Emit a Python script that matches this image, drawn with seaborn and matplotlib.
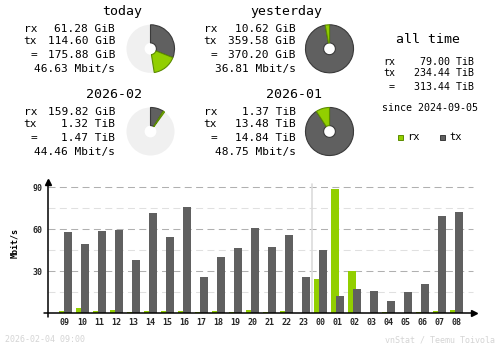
import numpy as np
import pandas as pd
import matplotlib
matplotlib.use("Agg")
import matplotlib.pyplot as plt
from matplotlib.patches import Rectangle
import seaborn as sns

# ---------------- data ----------------
hours = ["09", "10", "11", "12", "13", "14", "15", "16", "17", "18", "19", "20",
         "21", "22", "23", "00", "01", "02", "03", "04", "05", "06", "07", "08"]
rx_rate = [1.5, 3.5, 1.5, 2.5, 1.0, 1.5, 1.5, 1.5, 1.0, 1.5, 1.0, 2.5,
           1.0, 1.5, 0.2, 24.5, 88.8, 30.2, 0.2, 1.0, 0.2, 1.0, 1.5, 2.5]
tx_rate = [58.1, 49.5, 58.8, 59.5, 38.0, 71.6, 54.5, 75.9, 25.9, 40.2, 46.6, 61.0,
           47.4, 55.9, 25.9, 45.2, 12.4, 17.4, 15.9, 8.8, 15.2, 20.9, 69.5, 72.4]
y_ticks = [30, 60, 90]

day_titles = ["today", "yesterday"]
day_rx = [61.28, 10.62]          # GiB
day_tx = [114.60, 359.58]        # GiB
day_rx_txt = ["61.28 GiB", "10.62 GiB"]
day_tx_txt = ["114.60 GiB", "359.58 GiB"]
day_tot_txt = ["175.88 GiB", "370.20 GiB"]
day_rate_txt = ["46.63 Mbit/s", "36.81 Mbit/s"]

month_titles = ["2026-02", "2026-01"]
month_rx = [159.82 / 1024, 1.37]  # TiB
month_tx = [1.32, 13.48]          # TiB
month_rx_txt = ["159.82 GiB", "1.37 TiB"]
month_tx_txt = ["1.32 TiB", "13.48 TiB"]
month_tot_txt = ["1.47 TiB", "14.84 TiB"]
month_rate_txt = ["44.46 Mbit/s", "48.75 Mbit/s"]

all_rx_txt = "79.00 TiB"
all_tx_txt = "234.44 TiB"
all_tot_txt = "313.44 TiB"
since_txt = "since 2024-09-05"
stamp_txt = "2026-02-04 09:00"
credit_txt = "vnStat / Teemu Toivola"

# ---------------- style ----------------
sns.set_style("white")
plt.rcParams["font.family"] = ["DejaVu Sans Mono", "DejaVu Sans"]

RX = "#92cf00"
RX_D = "#5c8c00"
TX = "#606060"
TX_D = "#3a3a3a"
BG = "#f0f0f0"

W, H = 500, 348
fig = plt.figure(figsize=(5, 3.48), dpi=100)
fig.patch.set_facecolor("white")


def P(x, y):
    return x / W, 1 - y / H


def ftext(x, y, s, **kw):
    kw.setdefault("va", "center")
    kw.setdefault("color", "black")
    fig.text(*P(x, y), s, **kw)


def donut(cx, cy, tx_frac, rx_frac):
    r = 24.5
    ax = fig.add_axes([(cx - r) / W, 1 - (cy + r) / H, 2 * r / W, 2 * r / H])
    wd = 1 - 6.0 / 24.5
    bgw, = ax.pie([1], colors=[BG], radius=1, wedgeprops=dict(width=wd, linewidth=0))[0]
    rest = max(0.0, 1 - tx_frac - rx_frac)
    wedges, _ = ax.pie([tx_frac, rx_frac, rest], colors=[TX, RX, "none"], radius=1,
                       startangle=90, counterclock=False, normalize=False,
                       wedgeprops=dict(width=wd, linewidth=0.8))
    wedges[0].set_edgecolor(TX_D)
    wedges[1].set_edgecolor(RX_D)
    wedges[2].set_visible(False)
    ax.set_xlim(-1.02, 1.02)
    ax.set_ylim(-1.02, 1.02)
    ax.set_aspect("equal")
    ax.axis("off")


# ---------------- summary blocks ----------------
day_max = max(r + t for r, t in zip(day_rx, day_tx))
mon_max = max(r + t for r, t in zip(month_rx, month_tx))

col_title_right = [142, 322]
col_label_right = [37, 217]
col_value_right = [115, 296]
col_pie_x = [150.5, 329.5]

for i in range(2):
    # days
    ftext(col_title_right[i], 11.5, day_titles[i], ha="right", fontsize=9.5)
    for y, lab, val in [(29.3, "rx", day_rx_txt[i]), (41.3, "tx", day_tx_txt[i]),
                        (54.8, "=", day_tot_txt[i])]:
        ftext(col_label_right[i], y, lab, ha="right", fontsize=8)
        ftext(col_value_right[i], y, val, ha="right", fontsize=8)
    ftext(col_value_right[i], 68.7, day_rate_txt[i], ha="right", fontsize=8)
    donut(col_pie_x[i], 48.8, day_tx[i] / day_max, day_rx[i] / day_max)

    # months
    ftext(col_title_right[i], 94.3, month_titles[i], ha="right", fontsize=9.5)
    for y, lab, val in [(112.3, "rx", month_rx_txt[i]), (124.3, "tx", month_tx_txt[i]),
                        (137.8, "=", month_tot_txt[i])]:
        ftext(col_label_right[i], y, lab, ha="right", fontsize=8)
        ftext(col_value_right[i], y, val, ha="right", fontsize=8)
    ftext(col_value_right[i], 152, month_rate_txt[i], ha="right", fontsize=8)
    donut(col_pie_x[i], 131.5, month_tx[i] / mon_max, month_rx[i] / mon_max)

# all time block
ftext(428, 39.3, "all time", ha="center", fontsize=9.5)
for y, lab, val in [(62.3, "rx", all_rx_txt), (73.3, "tx", all_tx_txt), (87.5, "=", all_tot_txt)]:
    ftext(395, y, lab, ha="right", fontsize=7.2)
    ftext(474, y, val, ha="right", fontsize=7.2)
ftext(429.5, 108, since_txt, ha="center", fontsize=7.2)

# legend
for x0, fc, ec, lab in [(398, RX, RX_D, "rx"), (440, TX, TX_D, "tx")]:
    fig.add_artist(Rectangle(P(x0, 139.5), 5 / W, 5 / H, transform=fig.transFigure,
                             facecolor=fc, edgecolor=ec, linewidth=0.7))
    ftext(x0 + 9, 136.8, lab, ha="left", fontsize=7.5)

# footer
ftext(5, 340, stamp_txt, ha="left", fontsize=6, color="#d4d4d4")
ftext(495, 340, credit_txt, ha="right", fontsize=6, color="#d4d4d4")

# ---------------- hourly bar chart ----------------
ax_l, ax_r, ax_b, ax_t = 48, 477, 313.3, 180
ax = fig.add_axes([ax_l / W, 1 - ax_b / H, (ax_r - ax_l) / W, (ax_b - ax_t) / H])
ax.set_facecolor("none")

df = pd.DataFrame({"hour": hours, "rx": rx_rate, "tx": tx_rate})

ppu_x = 17.03
bw = 8 / ppu_x
off = 2.5 / ppu_x
ylim_top = (ax_b - ax_t) / 1.4

# grid lines
for v in [15, 45, 75]:
    ax.axhline(v, xmin=0, xmax=(473 - ax_l) / (ax_r - ax_l), color="#e0e0e0",
               lw=0.75, dashes=(6.7, 4.2), zorder=0)
for v in y_ticks:
    ax.axhline(v, xmin=0, xmax=(473 - ax_l) / (ax_r - ax_l), color="#b0b0b0",
               lw=0.75, dashes=(6.7, 4.2), zorder=0)
# day boundary
ax.plot([14.5, 14.5], [0, (ax_b - 184) / 1.4], color="#dcdcdc", lw=1.2, zorder=0.5)

n0 = len(ax.patches)
sns.barplot(data=df, x="hour", y="rx", order=hours, color=RX, width=bw,
            saturation=1, linewidth=0, ax=ax, zorder=2)
for p in ax.patches[n0:]:
    p.set_x(p.get_x() - off)
n1 = len(ax.patches)
sns.barplot(data=df, x="hour", y="tx", order=hours, color=TX, width=bw,
            saturation=1, linewidth=0, ax=ax, zorder=3)
for p in ax.patches[n1:]:
    p.set_x(p.get_x() + off)

ax.set_xlim(-(65 - ax_l) / ppu_x, (ax_r - 65) / ppu_x)
ax.set_ylim(0, ylim_top)
ax.set_yticks(y_ticks)
ax.set_yticklabels([str(v) for v in y_ticks], fontsize=6, fontweight="bold")
ax.set_xticks(range(len(hours)))
ax.set_xticklabels(hours, fontsize=6, fontweight="bold")
ax.tick_params(axis="both", length=0, pad=4)
ax.tick_params(axis="x", pad=3.5)
ax.set_xlabel("")
ax.set_ylabel("")
for s in ax.spines.values():
    s.set_visible(False)

# axis lines with arrowheads
ax.plot([-4 / (ax_r - ax_l), 0.995], [0, 0], transform=ax.transAxes, color="black",
        lw=1.1, clip_on=False, zorder=5)
ax.plot([0, 0], [-4 / (ax_b - ax_t), 0.99], transform=ax.transAxes, color="black",
        lw=1.1, clip_on=False, zorder=5)
ax.plot([0.993], [0], transform=ax.transAxes, marker=">", color="black", ms=4,
        clip_on=False, zorder=6)
ax.plot([0], [0.985], transform=ax.transAxes, marker="^", color="black", ms=4,
        clip_on=False, zorder=6)

ftext(14.5, 243, "Mbit/s", ha="center", rotation=90, fontsize=6, fontweight="bold")

fig.savefig("out.png", dpi=100)
